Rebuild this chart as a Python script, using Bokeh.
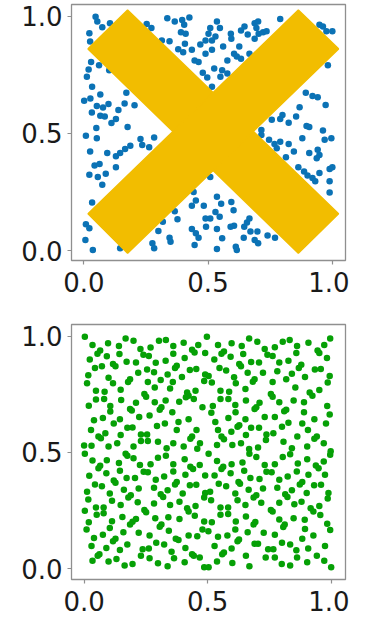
from bokeh.plotting import figure
from bokeh.layouts import column
from bokeh.models import FixedTicker, NumeralTickFormatter, Range1d
from bokeh.embed import file_html
from bokeh.resources import INLINE

# ---------------- data ----------------
TICKS = [0.0, 0.5, 1.0]
TICK_LABELS = ["0.0", "0.5", "1.0"]

# top panel: uniformly random points (only the ones visible around the cross)
top_x = [
    0.047, 0.054, 0.105, 0.074, 0.022, 0.025, 0.029, 0.019, 0.012, 0.061, 0.102, 0.033, 0.066,
    0.001, 0.026, 0.052, 0.032, 0.077, 0.099, 0.066, 0.084, 0.139, 0.164, 0.171, 0.204, 0.129,
    0.111, 0.050, 0.176, 0.336, 0.366, 0.396, 0.425, 0.404, 0.391, 0.410, 0.253, 0.272, 0.314,
    0.345, 0.407, 0.380, 0.400, 0.435, 0.469, 0.490, 0.446, 0.462, 0.490, 0.479, 0.497,
    0.536, 0.548, 0.509, 0.502, 0.530, 0.516, 0.592, 0.594, 0.633, 0.647, 0.660, 0.688, 0.702,
    0.695, 0.704, 0.722, 0.688, 0.736, 0.626, 0.561, 0.516, 0.605, 0.616, 0.633, 0.578, 0.667,
    0.525, 0.557, 0.550, 0.578, 0.516, 0.791, 0.949, 0.963, 0.977, 1.001, 0.983, 0.894, 0.921,
    0.942, 0.974, 0.869, 0.855, 0.800, 0.791, 0.757, 0.825, 0.897, 0.908, 0.715, 0.963,
    0.008, 0.052, 0.228, 0.283, 0.235, 0.263, 0.187, 0.166, 0.146, 0.129, 0.094, 0.025, 0.043,
    0.063, 0.022, 0.056, 0.074, 0.088, 0.129, 0.033, 0.442, 0.451, 0.483, 0.490, 0.435, 0.366,
    0.377, 0.318, 0.300, 0.345, 0.349, 0.435, 0.451, 0.462, 0.446, 0.276, 0.283, 0.146, 0.006,
    0.036, 0.008, 0.022, 0.492,
    0.715, 0.746, 0.768, 0.791, 0.825, 0.777, 0.814, 0.846, 0.880, 0.908, 0.942, 0.949, 0.938,
    0.970, 0.997, 0.864, 0.887, 0.901, 0.921, 0.932, 0.949, 0.990, 1.001, 0.990, 0.990, 0.509,
    0.536, 0.553, 0.594, 0.603, 0.530, 0.509, 0.547, 0.591, 0.605, 0.646, 0.657, 0.667, 0.671,
    0.699, 0.536, 0.557, 0.644, 0.688, 0.702, 0.740, 0.770, 0.536, 0.612, 0.616,
]
top_y = [
    0.997, 0.977, 0.969, 0.952, 0.927, 0.891, 0.804, 0.772, 0.741, 0.790, 0.769, 0.699, 0.666,
    0.639, 0.649, 0.617, 0.589, 0.610, 0.625, 0.575, 0.572, 0.600, 0.628, 0.673, 0.620, 0.561,
    0.544, 0.523, 0.527, 0.990, 0.977, 0.983, 0.994, 0.963, 0.931, 0.924, 0.966, 0.949, 0.896,
    0.892, 0.882, 0.858, 0.846, 0.856, 0.879, 0.896, 0.811, 0.804, 0.839, 0.758, 0.738,
    0.977, 0.949, 0.949, 0.924, 0.913, 0.896, 0.924, 0.903, 0.938, 0.955, 0.921, 0.969, 0.977,
    0.949, 0.924, 0.931, 0.903, 0.935, 0.870, 0.870, 0.856, 0.839, 0.828, 0.818, 0.811, 0.839,
    0.776, 0.769, 0.741, 0.755, 0.699, 0.987, 0.963, 0.955, 0.935, 0.935, 0.790, 0.673, 0.659,
    0.654, 0.621, 0.611, 0.572, 0.579, 0.561, 0.558, 0.546, 0.532, 0.527, 0.515, 0.513,
    0.490, 0.479, 0.476, 0.483, 0.451, 0.441, 0.448, 0.434, 0.417, 0.403, 0.417, 0.423, 0.363,
    0.370, 0.324, 0.314, 0.282, 0.328, 0.356, 0.206, 0.251, 0.215, 0.192, 0.138, 0.192, 0.169,
    0.135, 0.124, 0.085, 0.056, 0.039, 0.093, 0.075, 0.056, 0.025, 0.032, 0.011, 0.011, 0.046,
    0.004, 0.113, 0.096, 0.103,
    0.493, 0.473, 0.455, 0.465, 0.455, 0.437, 0.399, 0.423, 0.479, 0.417, 0.431, 0.408, 0.394,
    0.473, 0.479, 0.356, 0.338, 0.321, 0.310, 0.296, 0.332, 0.349, 0.356, 0.296, 0.248, 0.314,
    0.230, 0.201, 0.208, 0.173, 0.166, 0.138, 0.145, 0.103, 0.107, 0.103, 0.121, 0.138, 0.082,
    0.082, 0.093, 0.054, 0.056, 0.046, 0.032, 0.065, 0.056, 0.008, 0.018, 0.004,
]

# bottom panel: low-discrepancy points
bottom_x = [
    0.003, 0.168, 0.200, 0.303, 0.331, 0.034, 0.097, 0.141, 0.228, 0.269, 0.361, 0.403, 0.462,
    0.065, 0.054, 0.437, 0.447, 0.143, 0.240, 0.262, 0.361, 0.490, 0.023, 0.092, 0.172, 0.210,
    0.290, 0.330, 0.407, 0.117, 0.127, 0.044, 0.072, 0.375, 0.368, 0.454, 0.428, 0.255, 0.219,
    0.283, 0.338, 0.490, 0.017, 0.099, 0.186, 0.178, 0.310, 0.396, 0.486, 0.012, 0.117, 0.258,
    0.359, 0.286, 0.148, 0.048, 0.083, 0.348, 0.417, 0.423, 0.451, 0.244, 0.251, 0.048, 0.081,
    0.150, 0.210, 0.286, 0.330, 0.385, 0.412, 0.444, 0.019, 0.106, 0.186, 0.193, 0.306, 0.313,
    0.479, 0.106, 0.357, 0.265, 0.040, 0.076, 0.223, 0.145, 0.382, 0.423, 0.120, 0.327, 0.028,
    0.175, 0.196, 0.295, 0.375, 0.455, 0.086, 0.148, 0.255, 0.230, 0.058, 0.068, 0.437, 0.430,
    0.230, 0.258, 0.134, 0.299, 0.361, 0.469, 0.000, 0.030, 0.099, 0.200, 0.334, 0.403, 0.458,
    0.497, 0.668, 0.701, 0.804, 0.832, 0.542, 0.597, 0.638, 0.731, 0.772, 0.862, 0.908, 0.972,
    0.566, 0.556, 0.945, 0.952, 0.644, 0.742, 0.763, 0.859, 0.983, 0.527, 0.593, 0.676, 0.708,
    0.790, 0.827, 0.628, 0.635, 0.548, 0.575, 0.879, 0.869, 0.958, 0.934, 0.782, 0.662, 0.724,
    0.841, 0.504, 0.607, 0.690, 0.683, 0.818, 0.894, 0.986, 0.517, 0.614, 0.763, 0.855, 0.653,
    0.552, 0.587, 0.756, 0.763, 0.913, 0.924, 0.952, 0.552, 0.584, 0.655, 0.710, 0.790, 0.848,
    0.890, 0.984, 0.521, 0.612, 0.690, 0.697, 0.818, 0.810, 0.515, 0.613, 0.890, 0.772, 0.584,
    0.731, 0.653, 0.932, 0.531, 0.883, 0.628, 0.621, 0.827, 0.979, 0.676, 0.708, 0.801, 0.542,
    0.906, 0.596, 0.655, 0.738, 0.766, 0.556, 0.566, 0.942, 0.932, 0.736, 0.863, 0.807, 0.635,
    0.970, 0.538, 0.600, 0.704, 0.841, 0.903, 0.668, 0.996, 0.998, 0.996, 0.996, 0.994, 0.994,
    0.003, 0.168, 0.175, 0.200, 0.299, 0.331, 0.034, 0.092, 0.141, 0.058, 0.065, 0.226, 0.269,
    0.361, 0.407, 0.430, 0.441, 0.468, 0.145, 0.241, 0.258, 0.361, 0.090, 0.410, 0.021, 0.172,
    0.120, 0.127, 0.206, 0.290, 0.324, 0.375, 0.368, 0.490, 0.044, 0.072, 0.454, 0.428, 0.283,
    0.161, 0.338, 0.221, 0.012, 0.104, 0.490, 0.189, 0.179, 0.310, 0.320, 0.399, 0.017, 0.113,
    0.217, 0.283, 0.386, 0.486, 0.148, 0.048, 0.079, 0.348, 0.451, 0.244, 0.251, 0.417, 0.423,
    0.003, 0.051, 0.079, 0.448, 0.155, 0.288, 0.341, 0.386, 0.113, 0.210, 0.196, 0.019, 0.486,
    0.313, 0.306, 0.186, 0.104, 0.010, 0.159, 0.343, 0.221, 0.479, 0.076, 0.265, 0.423, 0.458,
    0.040, 0.127, 0.117, 0.371, 0.382, 0.175, 0.292, 0.324, 0.030, 0.090, 0.145, 0.262, 0.237,
    0.410, 0.437, 0.444, 0.062, 0.055, 0.354, 0.230, 0.265, 0.131, 0.364, 0.468, 0.099, 0.034,
    0.299, 0.164, 0.338, 0.407, 0.196, 0.486,
    0.504, 0.669, 0.697, 0.804, 0.834, 0.538, 0.641, 0.563, 0.556, 0.597, 0.731, 0.772, 0.865,
    0.903, 0.970, 0.938, 0.949, 0.648, 0.738, 0.759, 0.861, 0.528, 0.593, 0.908, 0.975, 0.673,
    0.710, 0.790, 0.824, 0.625, 0.631, 0.883, 0.873, 0.545, 0.575, 0.959, 0.931, 0.782, 0.666,
    0.724, 0.841, 0.510, 0.612, 0.697, 0.686, 0.814, 0.823, 0.901, 0.989, 0.514, 0.621, 0.717,
    0.790, 0.880, 0.986, 0.653, 0.552, 0.583, 0.851, 0.952, 0.756, 0.763, 0.917, 0.928, 0.552,
    0.583, 0.655, 0.790, 0.848, 0.893, 0.956, 0.517, 0.614, 0.686, 0.693, 0.812, 0.806, 0.984,
    0.503, 0.612, 0.894, 0.662, 0.727, 0.772, 0.542, 0.580, 0.928, 0.627, 0.621, 0.883, 0.690,
    0.704, 0.801, 0.834, 0.975, 0.528, 0.597, 0.566, 0.745, 0.766, 0.907, 0.942, 0.559, 0.735,
    0.772, 0.859, 0.655, 0.538, 0.862, 0.600, 0.669, 0.800, 0.834, 0.903, 0.972, 0.504, 1.000,
]
bottom_y = [
    0.997, 0.990, 0.980, 0.980, 0.983, 0.962, 0.969, 0.958, 0.945, 0.951, 0.958, 0.972, 0.962,
    0.938, 0.924, 0.941, 0.930, 0.923, 0.920, 0.915, 0.924, 0.927, 0.899, 0.913, 0.890, 0.887,
    0.885, 0.894, 0.906, 0.880, 0.870, 0.863, 0.870, 0.873, 0.863, 0.859, 0.854, 0.856, 0.842,
    0.845, 0.835, 0.835, 0.832, 0.821, 0.814, 0.803, 0.811, 0.824, 0.807, 0.797, 0.797, 0.803,
    0.803, 0.779, 0.769, 0.765, 0.761, 0.775, 0.758, 0.744, 0.765, 0.751, 0.739, 0.727, 0.730,
    0.725, 0.713, 0.715, 0.723, 0.718, 0.737, 0.730, 0.701, 0.699, 0.687, 0.680, 0.683, 0.694,
    0.694, 0.676, 0.673, 0.659, 0.638, 0.648, 0.652, 0.642, 0.631, 0.642, 0.624, 0.624, 0.596,
    0.606, 0.607, 0.613, 0.596, 0.596, 0.582, 0.575, 0.577, 0.577, 0.568, 0.561, 0.568, 0.558,
    0.549, 0.549, 0.539, 0.546, 0.539, 0.539, 0.530, 0.528, 0.525, 0.525, 0.518, 0.525, 0.515,
    0.997, 0.990, 0.976, 0.976, 0.983, 0.962, 0.969, 0.958, 0.945, 0.952, 0.958, 0.972, 0.962,
    0.934, 0.924, 0.938, 0.927, 0.923, 0.920, 0.915, 0.927, 0.906, 0.899, 0.911, 0.889, 0.887,
    0.887, 0.894, 0.880, 0.870, 0.863, 0.852, 0.877, 0.863, 0.859, 0.856, 0.849, 0.842, 0.842,
    0.838, 0.828, 0.823, 0.814, 0.804, 0.814, 0.824, 0.800, 0.800, 0.797, 0.803, 0.779, 0.772,
    0.765, 0.761, 0.751, 0.739, 0.758, 0.744, 0.768, 0.730, 0.730, 0.723, 0.713, 0.715, 0.723,
    0.715, 0.699, 0.699, 0.704, 0.687, 0.694, 0.683, 0.677, 0.670, 0.673, 0.673, 0.652, 0.648,
    0.652, 0.642, 0.642, 0.631, 0.624, 0.617, 0.610, 0.627, 0.624, 0.606, 0.606, 0.610, 0.596,
    0.596, 0.589, 0.575, 0.577, 0.582, 0.568, 0.556, 0.568, 0.558, 0.553, 0.568, 0.546, 0.539,
    0.539, 0.532, 0.532, 0.521, 0.518, 0.525, 0.514, 0.990, 0.505, 0.490, 0.166, 0.663, 0.828,
    0.494, 0.494, 0.485, 0.475, 0.477, 0.485, 0.465, 0.466, 0.454, 0.432, 0.442, 0.446, 0.449,
    0.449, 0.470, 0.438, 0.428, 0.446, 0.421, 0.417, 0.414, 0.418, 0.410, 0.404, 0.399, 0.390,
    0.379, 0.369, 0.390, 0.382, 0.396, 0.372, 0.362, 0.400, 0.362, 0.354, 0.361, 0.358, 0.348,
    0.339, 0.337, 0.344, 0.330, 0.323, 0.325, 0.315, 0.306, 0.320, 0.308, 0.323, 0.297, 0.292,
    0.285, 0.280, 0.287, 0.306, 0.273, 0.263, 0.263, 0.273, 0.269, 0.252, 0.242, 0.259, 0.245,
    0.249, 0.232, 0.238, 0.227, 0.222, 0.217, 0.221, 0.213, 0.204, 0.213, 0.201, 0.199, 0.203,
    0.190, 0.180, 0.190, 0.175, 0.168, 0.156, 0.163, 0.154, 0.168, 0.146, 0.142, 0.142, 0.139,
    0.132, 0.128, 0.118, 0.128, 0.123, 0.104, 0.111, 0.104, 0.097, 0.089, 0.080, 0.086, 0.083,
    0.089, 0.062, 0.055, 0.062, 0.055, 0.072, 0.055, 0.044, 0.041, 0.044, 0.048, 0.030, 0.034,
    0.023, 0.013, 0.010, 0.027, 0.020, 0.006,
    0.494, 0.494, 0.480, 0.480, 0.492, 0.463, 0.456, 0.438, 0.428, 0.449, 0.446, 0.449, 0.452,
    0.470, 0.461, 0.443, 0.432, 0.421, 0.417, 0.414, 0.418, 0.400, 0.410, 0.404, 0.404, 0.390,
    0.385, 0.382, 0.396, 0.372, 0.365, 0.372, 0.362, 0.365, 0.354, 0.361, 0.358, 0.348, 0.339,
    0.344, 0.337, 0.330, 0.323, 0.315, 0.306, 0.320, 0.308, 0.325, 0.325, 0.294, 0.294, 0.283,
    0.283, 0.287, 0.301, 0.273, 0.263, 0.263, 0.277, 0.269, 0.252, 0.245, 0.259, 0.245, 0.232,
    0.235, 0.224, 0.211, 0.217, 0.210, 0.231, 0.199, 0.203, 0.190, 0.200, 0.190, 0.179, 0.193,
    0.161, 0.168, 0.170, 0.156, 0.154, 0.146, 0.137, 0.142, 0.142, 0.125, 0.118, 0.128, 0.107,
    0.107, 0.111, 0.104, 0.097, 0.097, 0.086, 0.069, 0.083, 0.083, 0.086, 0.055, 0.062, 0.048,
    0.048, 0.079, 0.055, 0.030, 0.048, 0.024, 0.010, 0.020, 0.013, 0.027, 0.034, 0.006, 0.006,
]

# the crossed-out overlay drawn over the top panel (two bars of an "X")
CROSS_BARS_X = [[0.176, 1.026, 0.864, 0.0165], [0.864, 1.026, 0.176, 0.0165]]
CROSS_BARS_Y = [[1.025, 0.158, -0.010, 0.860], [1.025, 0.860, -0.010, 0.158]]

BLUE = "#0B72B5"
GREEN = "#06A006"
GOLD = "#F2BD00"
FRAME = "#8f8f8f"


def make_panel(frame_h, border_top, border_bottom, xr, yr):
    p = figure(
        frame_width=274, frame_height=frame_h,
        min_border_left=71, min_border_right=4,
        min_border_top=border_top, min_border_bottom=border_bottom,
        x_range=Range1d(*xr), y_range=Range1d(*yr),
        output_backend="svg", toolbar_location=None,
        background_fill_color="white", border_fill_color="white",
    )
    p.grid.visible = False
    p.outline_line_color = FRAME
    p.outline_line_width = 1.3
    for ax in (p.xaxis[0], p.yaxis[0]):
        ax.ticker = FixedTicker(ticks=TICKS)
        ax.formatter = NumeralTickFormatter(format="0.0")
        ax.major_label_overrides = {t: l for t, l in zip(TICKS, TICK_LABELS)}
        ax.axis_line_color = None
        ax.major_tick_line_color = FRAME
        ax.major_tick_line_width = 1.2
        ax.major_tick_in = 0
        ax.major_tick_out = 4
        ax.minor_tick_line_color = None
        ax.major_label_text_font = "DejaVu Sans"
        ax.major_label_text_font_size = "26px"
        ax.major_label_text_color = "#1a1a1a"
    p.xaxis[0].major_label_standoff = 7
    p.yaxis[0].major_label_standoff = 5
    return p


p1 = make_panel(256, 4, 63, (-0.05, 1.054), (-0.041, 1.049))
p1.scatter(top_x, top_y, size=6.5, fill_color=BLUE, line_color=None)
p1.patches(CROSS_BARS_X, CROSS_BARS_Y, fill_color=GOLD, line_color=GOLD, line_width=1.5)

p2 = make_panel(255, 1, 41, (-0.051, 1.058), (-0.047, 1.05))
p2.scatter(bottom_x, bottom_y, size=6.5, fill_color=GREEN, line_color=None)

layout = column(p1, p2, spacing=0)

open("out.html", "w").write(file_html(layout, INLINE))
